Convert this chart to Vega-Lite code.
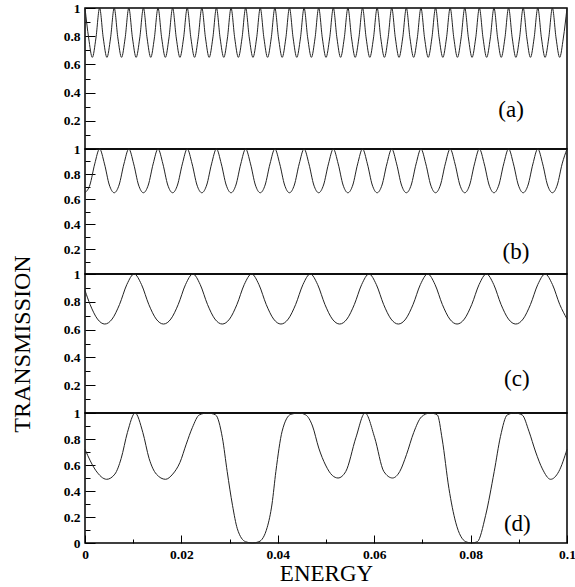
{
"$schema": "https://vega.github.io/schema/vega-lite/v6.json",
"background": "white",
"padding": {"left": 9, "top": 0, "right": 0, "bottom": 0},
"spacing": 0,
"bounds": "flush",
"config": {
  "view": {"stroke": "black", "strokeWidth": 1.5},
  "concat": {"spacing": 0},
  "axis": {"labelFont": "Liberation Serif", "labelFontSize": 13.5, "labelFontWeight": "bold", "labelColor": "black", "tickColor": "black", "tickWidth": 1, "domain": false, "grid": false, "titleFont": "Liberation Serif", "titleColor": "black", "titleFontWeight": "normal", "minExtent": 0}
},
"datasets": {
"a": [{"x":0,"y":1},{"x":0.00076,"y":0.787},{"x":0.00152,"y":0.65},{"x":0.00227,"y":0.787},
{"x":0.00303,"y":1},{"x":0.00379,"y":0.787},{"x":0.00455,"y":0.65},{"x":0.0053,"y":0.787},
{"x":0.00606,"y":1},{"x":0.00682,"y":0.787},{"x":0.00758,"y":0.65},{"x":0.00833,"y":0.787},
{"x":0.00909,"y":1},{"x":0.00985,"y":0.787},{"x":0.01061,"y":0.65},{"x":0.01136,"y":0.787},
{"x":0.01212,"y":1},{"x":0.01288,"y":0.787},{"x":0.01364,"y":0.65},{"x":0.01439,"y":0.787},
{"x":0.01515,"y":1},{"x":0.01591,"y":0.787},{"x":0.01667,"y":0.65},{"x":0.01742,"y":0.787},
{"x":0.01818,"y":1},{"x":0.01894,"y":0.787},{"x":0.0197,"y":0.65},{"x":0.02045,"y":0.787},
{"x":0.02121,"y":1},{"x":0.02197,"y":0.787},{"x":0.02273,"y":0.65},{"x":0.02348,"y":0.787},
{"x":0.02424,"y":1},{"x":0.025,"y":0.787},{"x":0.02576,"y":0.65},{"x":0.02652,"y":0.787},
{"x":0.02727,"y":1},{"x":0.02803,"y":0.787},{"x":0.02879,"y":0.65},{"x":0.02955,"y":0.787},
{"x":0.0303,"y":1},{"x":0.03106,"y":0.787},{"x":0.03182,"y":0.65},{"x":0.03258,"y":0.787},
{"x":0.03333,"y":1},{"x":0.03409,"y":0.787},{"x":0.03485,"y":0.65},{"x":0.03561,"y":0.787},
{"x":0.03636,"y":1},{"x":0.03712,"y":0.787},{"x":0.03788,"y":0.65},{"x":0.03864,"y":0.787},
{"x":0.03939,"y":1},{"x":0.04015,"y":0.787},{"x":0.04091,"y":0.65},{"x":0.04167,"y":0.787},
{"x":0.04242,"y":1},{"x":0.04318,"y":0.787},{"x":0.04394,"y":0.65},{"x":0.0447,"y":0.787},
{"x":0.04545,"y":1},{"x":0.04621,"y":0.787},{"x":0.04697,"y":0.65},{"x":0.04773,"y":0.787},
{"x":0.04848,"y":1},{"x":0.04924,"y":0.787},{"x":0.05,"y":0.65},{"x":0.05076,"y":0.787},
{"x":0.05152,"y":1},{"x":0.05227,"y":0.787},{"x":0.05303,"y":0.65},{"x":0.05379,"y":0.787},
{"x":0.05455,"y":1},{"x":0.0553,"y":0.787},{"x":0.05606,"y":0.65},{"x":0.05682,"y":0.787},
{"x":0.05758,"y":1},{"x":0.05833,"y":0.787},{"x":0.05909,"y":0.65},{"x":0.05985,"y":0.787},
{"x":0.06061,"y":1},{"x":0.06136,"y":0.787},{"x":0.06212,"y":0.65},{"x":0.06288,"y":0.787},
{"x":0.06364,"y":1},{"x":0.06439,"y":0.787},{"x":0.06515,"y":0.65},{"x":0.06591,"y":0.787},
{"x":0.06667,"y":1},{"x":0.06742,"y":0.787},{"x":0.06818,"y":0.65},{"x":0.06894,"y":0.787},
{"x":0.0697,"y":1},{"x":0.07045,"y":0.787},{"x":0.07121,"y":0.65},{"x":0.07197,"y":0.787},
{"x":0.07273,"y":1},{"x":0.07348,"y":0.787},{"x":0.07424,"y":0.65},{"x":0.075,"y":0.787},
{"x":0.07576,"y":1},{"x":0.07652,"y":0.787},{"x":0.07727,"y":0.65},{"x":0.07803,"y":0.787},
{"x":0.07879,"y":1},{"x":0.07955,"y":0.787},{"x":0.0803,"y":0.65},{"x":0.08106,"y":0.787},
{"x":0.08182,"y":1},{"x":0.08258,"y":0.787},{"x":0.08333,"y":0.65},{"x":0.08409,"y":0.787},
{"x":0.08485,"y":1},{"x":0.08561,"y":0.787},{"x":0.08636,"y":0.65},{"x":0.08712,"y":0.787},
{"x":0.08788,"y":1},{"x":0.08864,"y":0.787},{"x":0.08939,"y":0.65},{"x":0.09015,"y":0.787},
{"x":0.09091,"y":1},{"x":0.09167,"y":0.787},{"x":0.09242,"y":0.65},{"x":0.09318,"y":0.787},
{"x":0.09394,"y":1},{"x":0.0947,"y":0.787},{"x":0.09545,"y":0.65},{"x":0.09621,"y":0.787},
{"x":0.09697,"y":1},{"x":0.09773,"y":0.787},{"x":0.09848,"y":0.65},{"x":0.09924,"y":0.787},
{"x":0.1,"y":1}],
"b": [{"x":0,"y":0.65},{"x":0.00101,"y":0.712},{"x":0.00202,"y":0.881},{"x":0.00303,"y":1},{"x":0.00404,"y":0.881},{"x":0.00505,"y":0.712},
{"x":0.00606,"y":0.65},{"x":0.00707,"y":0.712},{"x":0.00808,"y":0.881},{"x":0.00909,"y":1},{"x":0.0101,"y":0.881},{"x":0.01111,"y":0.712},
{"x":0.01212,"y":0.65},{"x":0.01313,"y":0.712},{"x":0.01414,"y":0.881},{"x":0.01515,"y":1},{"x":0.01616,"y":0.881},{"x":0.01717,"y":0.712},
{"x":0.01818,"y":0.65},{"x":0.01919,"y":0.712},{"x":0.0202,"y":0.881},{"x":0.02121,"y":1},{"x":0.02222,"y":0.881},{"x":0.02323,"y":0.712},
{"x":0.02424,"y":0.65},{"x":0.02525,"y":0.712},{"x":0.02626,"y":0.881},{"x":0.02727,"y":1},{"x":0.02828,"y":0.881},{"x":0.02929,"y":0.712},
{"x":0.0303,"y":0.65},{"x":0.03131,"y":0.712},{"x":0.03232,"y":0.881},{"x":0.03333,"y":1},{"x":0.03434,"y":0.881},{"x":0.03535,"y":0.712},
{"x":0.03636,"y":0.65},{"x":0.03737,"y":0.712},{"x":0.03838,"y":0.881},{"x":0.03939,"y":1},{"x":0.0404,"y":0.881},{"x":0.04141,"y":0.712},
{"x":0.04242,"y":0.65},{"x":0.04343,"y":0.712},{"x":0.04444,"y":0.881},{"x":0.04545,"y":1},{"x":0.04646,"y":0.881},{"x":0.04747,"y":0.712},
{"x":0.04848,"y":0.65},{"x":0.04949,"y":0.712},{"x":0.05051,"y":0.881},{"x":0.05152,"y":1},{"x":0.05253,"y":0.881},{"x":0.05354,"y":0.712},
{"x":0.05455,"y":0.65},{"x":0.05556,"y":0.712},{"x":0.05657,"y":0.881},{"x":0.05758,"y":1},{"x":0.05859,"y":0.881},{"x":0.0596,"y":0.712},
{"x":0.06061,"y":0.65},{"x":0.06162,"y":0.712},{"x":0.06263,"y":0.881},{"x":0.06364,"y":1},{"x":0.06465,"y":0.881},{"x":0.06566,"y":0.712},
{"x":0.06667,"y":0.65},{"x":0.06768,"y":0.712},{"x":0.06869,"y":0.881},{"x":0.0697,"y":1},{"x":0.07071,"y":0.881},{"x":0.07172,"y":0.712},
{"x":0.07273,"y":0.65},{"x":0.07374,"y":0.712},{"x":0.07475,"y":0.881},{"x":0.07576,"y":1},{"x":0.07677,"y":0.881},{"x":0.07778,"y":0.712},
{"x":0.07879,"y":0.65},{"x":0.0798,"y":0.712},{"x":0.08081,"y":0.881},{"x":0.08182,"y":1},{"x":0.08283,"y":0.881},{"x":0.08384,"y":0.712},
{"x":0.08485,"y":0.65},{"x":0.08586,"y":0.712},{"x":0.08687,"y":0.881},{"x":0.08788,"y":1},{"x":0.08889,"y":0.881},{"x":0.0899,"y":0.712},
{"x":0.09091,"y":0.65},{"x":0.09192,"y":0.712},{"x":0.09293,"y":0.881},{"x":0.09394,"y":1},{"x":0.09495,"y":0.881},{"x":0.09596,"y":0.712},
{"x":0.09697,"y":0.65},{"x":0.09798,"y":0.712},{"x":0.09899,"y":0.881},{"x":0.1,"y":1}],
"c": [{"x":0,"y":0.881},{"x":0.001065,"y":0.78},{"x":0.002588,"y":0.676},{"x":0.00411,"y":0.64},{"x":0.005633,"y":0.676},{"x":0.007155,"y":0.78},{"x":0.008678,"y":0.924},
{"x":0.0102,"y":1},{"x":0.011723,"y":0.924},{"x":0.013245,"y":0.78},{"x":0.014768,"y":0.676},{"x":0.01629,"y":0.64},{"x":0.017813,"y":0.676},{"x":0.019335,"y":0.78},{"x":0.020858,"y":0.924},
{"x":0.02238,"y":1},{"x":0.023903,"y":0.924},{"x":0.025425,"y":0.78},{"x":0.026948,"y":0.676},{"x":0.02847,"y":0.64},{"x":0.029993,"y":0.676},{"x":0.031515,"y":0.78},{"x":0.033038,"y":0.924},
{"x":0.03456,"y":1},{"x":0.036083,"y":0.924},{"x":0.037605,"y":0.78},{"x":0.039128,"y":0.676},{"x":0.04065,"y":0.64},{"x":0.042173,"y":0.676},{"x":0.043695,"y":0.78},{"x":0.045218,"y":0.924},
{"x":0.04674,"y":1},{"x":0.048263,"y":0.924},{"x":0.049785,"y":0.78},{"x":0.051308,"y":0.676},{"x":0.05283,"y":0.64},{"x":0.054353,"y":0.676},{"x":0.055875,"y":0.78},{"x":0.057398,"y":0.924},
{"x":0.05892,"y":1},{"x":0.060443,"y":0.924},{"x":0.061965,"y":0.78},{"x":0.063488,"y":0.676},{"x":0.06501,"y":0.64},{"x":0.066533,"y":0.676},{"x":0.068055,"y":0.78},{"x":0.069578,"y":0.924},
{"x":0.0711,"y":1},{"x":0.072623,"y":0.924},{"x":0.074145,"y":0.78},{"x":0.075668,"y":0.676},{"x":0.07719,"y":0.64},{"x":0.078713,"y":0.676},{"x":0.080235,"y":0.78},{"x":0.081758,"y":0.924},
{"x":0.08328,"y":1},{"x":0.084803,"y":0.924},{"x":0.086325,"y":0.78},{"x":0.087848,"y":0.676},{"x":0.08937,"y":0.64},{"x":0.090893,"y":0.676},{"x":0.092415,"y":0.78},{"x":0.093938,"y":0.924},
{"x":0.09546,"y":1},{"x":0.096983,"y":0.924},{"x":0.098505,"y":0.78},{"x":0.1,"y":0.677}],
"d": [{"x":0,"y":0.72},{"x":0.0022,"y":0.56},{"x":0.0045,"y":0.49},{"x":0.0062,"y":0.53},{"x":0.0075,"y":0.65},{"x":0.0088,"y":0.85},{"x":0.0104,"y":1},{"x":0.012,"y":0.85},{"x":0.0133,"y":0.65},{"x":0.0148,"y":0.53},{"x":0.0167,"y":0.49},
{"x":0.0182,"y":0.53},{"x":0.0197,"y":0.62},{"x":0.021,"y":0.76},{"x":0.0223,"y":0.89},{"x":0.0237,"y":0.985},{"x":0.0254,"y":1},{"x":0.0271,"y":0.985},{"x":0.0285,"y":0.81},{"x":0.0295,"y":0.55},{"x":0.0306,"y":0.29},{"x":0.0316,"y":0.11},
{"x":0.0333,"y":0.01},{"x":0.0347,"y":0},{"x":0.0361,"y":0.01},{"x":0.0378,"y":0.12},{"x":0.0388,"y":0.3},{"x":0.0396,"y":0.55},{"x":0.0409,"y":0.86},{"x":0.0427,"y":0.99},{"x":0.0444,"y":1},{"x":0.0458,"y":0.985},
{"x":0.0472,"y":0.9},{"x":0.0485,"y":0.73},{"x":0.0499,"y":0.6},{"x":0.0513,"y":0.52},{"x":0.0525,"y":0.5},{"x":0.0541,"y":0.55},{"x":0.0562,"y":0.81},{"x":0.0581,"y":1},{"x":0.0601,"y":0.81},{"x":0.062,"y":0.55},{"x":0.0638,"y":0.5},
{"x":0.0653,"y":0.55},{"x":0.0667,"y":0.68},{"x":0.0682,"y":0.85},{"x":0.0698,"y":0.97},{"x":0.0716,"y":1},{"x":0.0731,"y":0.985},{"x":0.0741,"y":0.8},{"x":0.0755,"y":0.42},{"x":0.0769,"y":0.16},{"x":0.079,"y":0.01},{"x":0.0802,"y":0},{"x":0.0814,"y":0.01},
{"x":0.0831,"y":0.21},{"x":0.0849,"y":0.55},{"x":0.0862,"y":0.82},{"x":0.0876,"y":0.985},{"x":0.0891,"y":1},{"x":0.0907,"y":0.985},{"x":0.0921,"y":0.86},{"x":0.0935,"y":0.7},{"x":0.0949,"y":0.57},{"x":0.0966,"y":0.49},
{"x":0.0983,"y":0.55},{"x":0.1,"y":0.72}]
},
"vconcat": [
{
  "width": 482, "height": 141,
  "encoding": {
    "x": {"field": "x", "type": "quantitative", "scale": {"domain": [0, 0.1], "nice": false, "zero": false}, "axis": null},
    "y": {"field": "y", "type": "quantitative", "scale": {"domain": [0, 1], "nice": false},
      "axis": {"values": [0,0.1,0.2,0.3,0.4,0.5,0.6,0.7,0.8,0.9,1], "title": null, "labelPadding": 15,
        "labelExpr": "(round(datum.value*10)%2==0 && datum.value>0) ? format(datum.value, '.1~f') : ''",
        "tickSize": {"condition": {"test": "round(datum.value*10)%2==0", "value": -10}, "value": -5}}}
  },
  "layer": [
    {"data": {"name": "a"}, "mark": {"type": "line", "interpolate": "monotone", "color": "#222222", "strokeWidth": 1}},
    {"data": {"values": [{"x": 0.0884, "y": 0.28, "t": "(a)"}]}, "mark": {"type": "text", "font": "Liberation Serif", "fontSize": 23, "color": "black", "align": "center", "baseline": "middle"}, "encoding": {"text": {"field": "t"}}}
  ]
},
{
  "width": 482, "height": 125,
  "encoding": {
    "x": {"field": "x", "type": "quantitative", "scale": {"domain": [0, 0.1], "nice": false, "zero": false}, "axis": null},
    "y": {"field": "y", "type": "quantitative", "scale": {"domain": [0, 1], "nice": false},
      "axis": {"values": [0,0.1,0.2,0.3,0.4,0.5,0.6,0.7,0.8,0.9,1], "title": null, "labelPadding": 15,
        "labelExpr": "(round(datum.value*10)%2==0 && datum.value>0) ? format(datum.value, '.1~f') : ''",
        "tickSize": {"condition": {"test": "round(datum.value*10)%2==0", "value": -10}, "value": -5}}}
  },
  "layer": [
    {"data": {"name": "b"}, "mark": {"type": "line", "interpolate": "monotone", "color": "#222222", "strokeWidth": 1}},
    {"data": {"values": [{"x": 0.0894, "y": 0.18, "t": "(b)"}]}, "mark": {"type": "text", "font": "Liberation Serif", "fontSize": 23, "color": "black", "align": "center", "baseline": "middle"}, "encoding": {"text": {"field": "t"}}}
  ]
},
{
  "width": 482, "height": 139,
  "encoding": {
    "x": {"field": "x", "type": "quantitative", "scale": {"domain": [0, 0.1], "nice": false, "zero": false}, "axis": null},
    "y": {"field": "y", "type": "quantitative", "scale": {"domain": [0, 1], "nice": false},
      "axis": {"values": [0,0.1,0.2,0.3,0.4,0.5,0.6,0.7,0.8,0.9,1], "title": "TRANSMISSION", "titleFontSize": 24, "titleX": -63, "titleBaseline": "middle", "labelPadding": 15,
        "labelExpr": "(round(datum.value*10)%2==0 && datum.value>0) ? format(datum.value, '.1~f') : ''",
        "tickSize": {"condition": {"test": "round(datum.value*10)%2==0", "value": -10}, "value": -5}}}
  },
  "layer": [
    {"data": {"name": "c"}, "mark": {"type": "line", "interpolate": "monotone", "color": "#222222", "strokeWidth": 1}},
    {"data": {"values": [{"x": 0.0896, "y": 0.245, "t": "(c)"}]}, "mark": {"type": "text", "font": "Liberation Serif", "fontSize": 23, "color": "black", "align": "center", "baseline": "middle"}, "encoding": {"text": {"field": "t"}}}
  ]
},
{
  "width": 482, "height": 130,
  "encoding": {
    "x": {"field": "x", "type": "quantitative", "scale": {"domain": [0, 0.1], "nice": false, "zero": false},
      "axis": {"values": [0,0.01,0.02,0.03,0.04,0.05,0.06,0.07,0.08,0.09,0.1], "title": "ENERGY", "titleFontSize": 23, "titlePadding": 2, "labelFlush": false, "labelPadding": 12,
        "labelExpr": "round(datum.value*100)%2==0 ? format(datum.value, '~g') : ''",
        "tickSize": {"condition": {"test": "round(datum.value*100)%2==0", "value": -8}, "value": -4}}},
    "y": {"field": "y", "type": "quantitative", "scale": {"domain": [0, 1], "nice": false},
      "axis": {"values": [0,0.1,0.2,0.3,0.4,0.5,0.6,0.7,0.8,0.9,1], "title": null, "labelPadding": 15,
        "labelExpr": "round(datum.value*10)%2==0 ? format(datum.value, '.1~f') : ''",
        "tickSize": {"condition": {"test": "round(datum.value*10)%2==0", "value": -10}, "value": -5}}}
  },
  "layer": [
    {"data": {"name": "d"}, "mark": {"type": "line", "interpolate": "monotone", "color": "#222222", "strokeWidth": 1}},
    {"data": {"values": [{"x": 0.0897, "y": 0.15, "t": "(d)"}]}, "mark": {"type": "text", "font": "Liberation Serif", "fontSize": 23, "color": "black", "align": "center", "baseline": "middle"}, "encoding": {"text": {"field": "t"}}}
  ]
}
]
}
